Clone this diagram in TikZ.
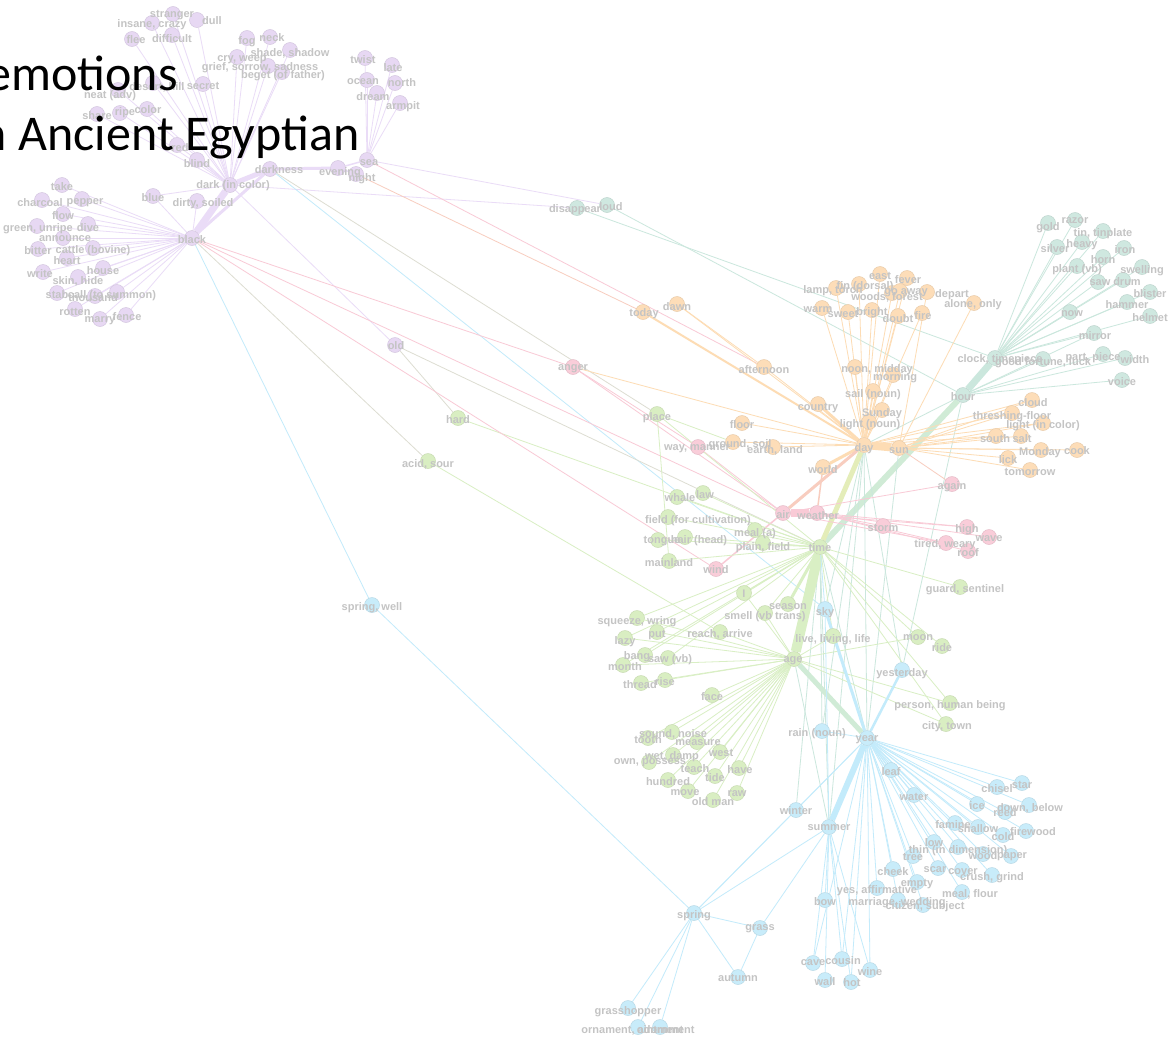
\documentclass[tikz,border=0pt]{standalone}
\usepackage{fontspec}
\setmainfont{Liberation Sans}
\newfontfamily\titlefont{Carlito}
\newfontfamily\labfont{Liberation Sans}
\pgfdeclarelayer{bg}
\pgfdeclarelayer{fg}
\pgfsetlayers{bg,main,fg}
% fills of the vertex circles
\definecolor{fPu}{HTML}{E7D8F3}
\definecolor{fTe}{HTML}{CFE8E0}
\definecolor{fOr}{HTML}{FDDDB8}
\definecolor{fGr}{HTML}{D9EEC2}
\definecolor{fBl}{HTML}{C8ECFA}
\definecolor{fPk}{HTML}{F9CDD9}
% edge colours
\definecolor{lPu}{HTML}{EADCF7}
\definecolor{lTe}{HTML}{CBE7DD}
\definecolor{lOr}{HTML}{FDDCB4}
\definecolor{lGr}{HTML}{D9EFC4}
\definecolor{lBl}{HTML}{C3EBFB}
\definecolor{lPk}{HTML}{F9CAD6}
\definecolor{lGy}{HTML}{DDDDD2}
\definecolor{lRd}{HTML}{F8CDBF}
\definecolor{lYl}{HTML}{E4EDB9}
\definecolor{lTg}{HTML}{D0EBD6}
\definecolor{cLab}{HTML}{C4C4C4}
\newcommand\V[7]{\node[#1] (#2) at (#3,#4) {};%
  \begin{pgfonlayer}{fg}\node[lab] at (#5,#6) {#7};\end{pgfonlayer}}
\begin{document}
\begin{tikzpicture}[x=1pt,y=-1pt,
  vt/.style={circle,minimum size=15pt,inner sep=0pt,line width=0.5pt},
  pu/.style={vt,fill=fPu,draw=fPu!92!black},
  te/.style={vt,fill=fTe,draw=fTe!92!black},
  or/.style={vt,fill=fOr,draw=fOr!92!black},
  gr/.style={vt,fill=fGr,draw=fGr!92!black},
  bl/.style={vt,fill=fBl,draw=fBl!92!black},
  pk/.style={vt,fill=fPk,draw=fPk!92!black},
  lab/.style={font=\labfont\bfseries\fontsize{11}{13}\selectfont,text=cLab,inner sep=0pt},
  ePu/.style={draw=lPu,line width=0.8pt},
  eTe/.style={draw=lTe,line width=0.8pt},
  eOr/.style={draw=lOr,line width=0.8pt},
  eGr/.style={draw=lGr,line width=0.8pt},
  eBl/.style={draw=lBl,line width=0.8pt},
  ePk/.style={draw=lPk,line width=0.8pt},
  eGy/.style={draw=lGy,line width=0.8pt},
  eRd/.style={draw=lRd,line width=0.8pt},
  eYl/.style={draw=lYl,line width=0.8pt},
  eTg/.style={draw=lTg,line width=0.8pt},
  title/.style={font=\titlefont\fontsize{50}{60}\selectfont,text=black,inner sep=0pt,anchor=base east}]
\useasboundingbox (0,0) rectangle (1169,1044);

% ---------- purple cluster ----------
\V{pu}{stranger}{173}{14}{172}{15}{stranger}
\V{pu}{dull}{197}{20}{212}{21}{dull}
\V{pu}{insane}{152}{23}{152}{25}{insane, crazy}
\V{pu}{flee}{132}{39}{136}{40}{flee}
\V{pu}{difficult}{172}{35}{172}{39}{difficult}
\V{pu}{fog}{247}{38}{247}{42}{fog}
\V{pu}{neck}{270}{37}{272}{38}{neck}
\V{pu}{shade}{290}{50}{290}{53}{shade, shadow}
\V{pu}{cry}{237}{57}{242}{60}{cry, weep}
\V{pu}{grief}{268}{66}{260}{68}{grief, sorrow, sadness}
\V{pu}{beget}{282}{72}{283}{76}{beget (of father)}
\V{pu}{twist}{365}{58}{363}{60}{twist}
\V{pu}{late}{392}{65}{393}{68}{late}
\V{pu}{ocean}{367}{80}{363}{82}{ocean}
\V{pu}{north}{395}{83}{402}{83}{north}
\V{pu}{dream}{377}{93}{373}{97}{dream}
\V{pu}{armpit}{400}{103}{403}{107}{armpit}
\V{pu}{secret}{203}{84}{203}{86}{secret}
\V{pu}{hill}{153}{83}{157}{87}{desert, hill}
\V{pu}{neat}{118}{90}{110}{96}{neat (adv)}
\V{pu}{color}{147}{109}{148}{110}{color}
\V{pu}{ripe}{120}{113}{125}{113}{ripe}
\V{pu}{share}{97}{114}{97}{116}{share}
\V{pu}{red}{177}{145}{180}{148}{red}
\V{pu}{blind}{197}{160}{197}{164}{blind}
\V{pu}{darkness}{270}{169}{279}{170}{darkness}
\V{pu}{evening}{338}{168}{340}{173}{evening}
\V{pu}{night}{356}{174}{362}{179}{night}
\V{pu}{sea}{367}{160}{369}{163}{sea}
\V{pu}{dark}{230}{185}{233}{186}{dark (in color)}
\V{pu}{blue}{153}{196}{153}{198}{blue}
\V{pu}{dirty}{197}{201}{203}{204}{dirty, soiled}
\V{pu}{black}{192}{238}{192}{240}{black}
\V{pu}{take}{62}{185}{62}{187}{take}
\V{pu}{charcoal}{42}{200}{40}{203}{charcoal}
\V{pu}{pepper}{82}{199}{85}{203}{pepper}
\V{pu}{flow}{63}{214}{63}{216}{flow}
\V{pu}{green}{37}{226}{38}{229}{green, unripe}
\V{pu}{dive}{88}{224}{88}{228}{dive}
\V{pu}{announce}{63}{238}{65}{239}{announce}
\V{pu}{bitter}{38}{249}{38}{251}{bitter}
\V{pu}{cattle}{93}{248}{93}{251}{cattle (bovine)}
\V{pu}{heart}{67}{258}{67}{261}{heart}
\V{pu}{write}{43}{272}{40}{274}{write}
\V{pu}{house}{103}{268}{103}{271}{house}
\V{pu}{skin}{78}{277}{78}{281}{skin, hide}
\V{pu}{stab}{57}{293}{57}{295}{stab}
\V{pu}{call}{117}{292}{112}{296}{call (to summon)}
\V{pu}{thousand}{95}{296}{93}{298}{thousand}
\V{pu}{rotten}{75}{309}{75}{312}{rotten}
\V{pu}{marry}{100}{319}{100}{321}{marry}
\V{pu}{fence}{126}{315}{127}{317}{fence}
\V{pu}{old}{395}{345}{396}{346}{old}

% ---------- teal cluster ----------
\V{te}{disappear}{577}{208}{575}{210}{disappear}
\V{te}{loud}{607}{205}{611}{207}{loud}
\V{te}{gold}{1048}{223}{1048}{228}{gold}
\V{te}{razor}{1075}{220}{1075}{221}{razor}
\V{te}{tin}{1103}{231}{1103}{234}{tin, tinplate}
\V{te}{silver}{1057}{247}{1055}{249}{silver}
\V{te}{heavy}{1082}{242}{1082}{245}{heavy}
\V{te}{iron}{1124}{248}{1125}{250}{iron}
\V{te}{horn}{1103}{257}{1103}{260}{horn}
\V{te}{plant}{1077}{266}{1077}{270}{plant (vb)}
\V{te}{swelling}{1142}{267}{1142}{271}{swelling}
\V{te}{saw}{1098}{282}{1100}{283}{saw}
\V{te}{drum}{1123}{280}{1127}{282}{drum}
\V{te}{blister}{1150}{292}{1150}{294}{blister}
\V{te}{hammer}{1127}{302}{1127}{305}{hammer}
\V{te}{helmet}{1150}{316}{1150}{318}{helmet}
\V{te}{now}{1070}{312}{1072}{314}{now}
\V{te}{mirror}{1094}{333}{1095}{336}{mirror}
\V{te}{part}{1103}{354}{1093}{358}{part, piece}
\V{te}{width}{1125}{358}{1135}{360}{width}
\V{te}{clock}{995}{358}{1000}{360}{clock, timepiece}
\V{te}{luck}{1043}{359}{1043}{363}{good fortune, luck}
\V{te}{voice}{1122}{380}{1122}{382}{voice}
\V{te}{hour}{963}{395}{963}{397}{hour}

% ---------- orange cluster ----------
\V{or}{east}{880}{274}{880}{276}{east}
\V{or}{fever}{907}{278}{908}{280}{fever}
\V{or}{lamp}{836}{288}{833}{291}{lamp, torch}
\V{or}{fin}{859}{284}{865}{287}{fin (dorsal)}
\V{or}{woods}{892}{293}{887}{297}{woods, forest}
\V{or}{goaway}{900}{291}{906}{293}{go away}
\V{or}{depart}{927}{292}{952}{295}{depart}
\V{or}{alone}{974}{303}{973}{305}{alone, only}
\V{or}{warm}{822}{308}{818}{310}{warm}
\V{or}{sweet}{848}{312}{843}{314}{sweet}
\V{or}{bright}{872}{310}{872}{313}{bright}
\V{or}{doubt}{898}{316}{898}{319}{doubt}
\V{or}{fire}{922}{313}{923}{316}{fire}
\V{or}{today}{643}{312}{644}{314}{today}
\V{or}{dawn}{677}{304}{677}{307}{dawn}
\V{or}{afternoon}{764}{367}{764}{370}{afternoon}
\V{or}{noon}{855}{367}{877}{370}{noon, midday}
\V{or}{morning}{893}{375}{895}{378}{morning}
\V{or}{sail}{873}{391}{873}{395}{sail (noun)}
\V{or}{country}{818}{404}{818}{408}{country}
\V{or}{sunday}{882}{410}{882}{414}{Sunday}
\V{or}{lightn}{869}{422}{870}{425}{light (noun)}
\V{or}{floor}{742}{423}{742}{425}{floor}
\V{or}{earthg}{733}{442}{740}{445}{ground, soil}
\V{or}{earthland}{773}{447}{775}{450}{earth, land}
\V{or}{day}{864}{445}{864}{449}{day}
\V{or}{sun}{899}{448}{899}{451}{sun}
\V{or}{world}{823}{467}{823}{470}{world}
\V{or}{cloud}{1032}{400}{1033}{403}{cloud}
\V{or}{thresh}{1012}{413}{1012}{417}{threshing-floor}
\V{or}{lightc}{1043}{423}{1043}{426}{light (in color)}
\V{or}{south}{996}{436}{995}{439}{south}
\V{or}{salt}{1021}{436}{1022}{439}{salt}
\V{or}{monday}{1041}{450}{1040}{453}{Monday}
\V{or}{cook}{1077}{450}{1077}{451}{cook}
\V{or}{lick}{1008}{458}{1008}{460}{lick}
\V{or}{tomorrow}{1030}{470}{1030}{472}{tomorrow}

% ---------- pink cluster ----------
\V{pk}{anger}{573}{367}{573}{369}{anger}
\V{pk}{way}{698}{447}{697}{449}{way, manner}
\V{pk}{again}{952}{484}{952}{487}{again}
\V{pk}{air}{783}{513}{783}{515}{air}
\V{pk}{weather}{817}{513}{818}{516}{weather}
\V{pk}{storm}{883}{526}{883}{528}{storm}
\V{pk}{high}{967}{527}{967}{530}{high}
\V{pk}{wave}{989}{537}{989}{539}{wave}
\V{pk}{tired}{946}{543}{945}{545}{tired, weary}
\V{pk}{roof}{968}{551}{968}{553}{roof}
\V{pk}{wind}{716}{569}{716}{570}{wind}

% ---------- green cluster ----------
\V{gr}{place}{657}{414}{657}{418}{place}
\V{gr}{hard}{458}{418}{458}{420}{hard}
\V{gr}{acid}{428}{461}{428}{464}{acid, sour}
\V{gr}{whale}{677}{497}{680}{498}{whale}
\V{gr}{law}{703}{493}{705}{495}{law}
\V{gr}{fieldc}{668}{517}{698}{521}{field (for cultivation)}
\V{gr}{tongue}{658}{540}{662}{541}{tongue}
\V{gr}{hair}{685}{537}{699}{541}{hair (head)}
\V{gr}{meal}{755}{530}{755}{534}{meal (a)}
\V{gr}{plain}{763}{543}{763}{548}{plain, field}
\V{gr}{mainland}{669}{561}{669}{563}{mainland}
\V{gr}{I}{744}{593}{744}{594}{I}
\V{gr}{guard}{960}{587}{965}{590}{guard, sentinel}
\V{gr}{season}{788}{604}{788}{607}{season}
\V{gr}{smell}{765}{613}{765}{617}{smell (vb trans)}
\V{gr}{squeeze}{637}{618}{637}{622}{squeeze, wring}
\V{gr}{put}{657}{632}{657}{635}{put}
\V{gr}{lazy}{625}{638}{625}{642}{lazy}
\V{gr}{reach}{720}{632}{720}{634}{reach, arrive}
\V{gr}{live}{833}{636}{833}{640}{live, living, life}
\V{gr}{moon}{918}{637}{918}{638}{moon}
\V{gr}{ride}{942}{646}{942}{648}{ride}
\V{gr}{bang}{645}{655}{637}{657}{bang}
\V{gr}{sawvb}{668}{658}{670}{660}{saw (vb)}
\V{gr}{month}{623}{665}{625}{667}{month}
\V{gr}{age}{794}{659}{793}{661}{age}
\V{gr}{thread}{641}{683}{640}{685}{thread}
\V{gr}{rise}{665}{680}{665}{682}{rise}
\V{gr}{face}{712}{695}{712}{697}{face}
\V{gr}{person}{950}{703}{950}{706}{person, human being}
\V{gr}{city}{946}{724}{947}{727}{city, town}
\V{gr}{time}{820}{547}{820}{548}{time}
\V{gr}{sound}{672}{732}{673}{734}{sound, noise}
\V{gr}{tooth}{648}{738}{648}{740}{tooth}
\V{gr}{measure}{697}{742}{698}{743}{measure}
\V{gr}{west}{720}{752}{721}{753}{west}
\V{gr}{wet}{673}{755}{672}{757}{wet, damp}
\V{gr}{own}{649}{762}{650}{763}{own, possess}
\V{gr}{teach}{694}{767}{695}{769}{teach}
\V{gr}{have}{739}{768}{740}{770}{have}
\V{gr}{tide}{715}{776}{715}{778}{tide}
\V{gr}{hundred}{668}{780}{668}{782}{hundred}
\V{gr}{move}{688}{791}{685}{793}{move}
\V{gr}{raw}{737}{793}{737}{794}{raw}
\V{gr}{oldman}{713}{800}{713}{802}{old man}

% ---------- blue cluster ----------
\V{bl}{springwell}{372}{605}{372}{608}{spring, well}
\V{bl}{sky}{825}{609}{825}{613}{sky}
\V{bl}{yesterday}{902}{670}{902}{674}{yesterday}
\V{bl}{rain}{822}{731}{817}{734}{rain (noun)}
\V{bl}{year}{867}{738}{867}{740}{year}
\V{bl}{leaf}{891}{770}{891}{772}{leaf}
\V{bl}{water}{914}{795}{914}{797}{water}
\V{bl}{chisel}{997}{787}{997}{789}{chisel}
\V{bl}{star}{1022}{783}{1022}{785}{star}
\V{bl}{ice}{977}{804}{977}{806}{ice}
\V{bl}{down}{1029}{805}{1030}{808}{down, below}
\V{bl}{reed}{1005}{812}{1005}{813}{reed}
\V{bl}{winter}{796}{810}{796}{811}{winter}
\V{bl}{famine}{955}{823}{953}{825}{famine}
\V{bl}{shallow}{978}{827}{978}{829}{shallow}
\V{bl}{firewood}{1026}{831}{1033}{832}{firewood}
\V{bl}{cold}{1003}{835}{1003}{837}{cold}
\V{bl}{summer}{829}{827}{829}{828}{summer}
\V{bl}{low}{934}{842}{934}{843}{low}
\V{bl}{thin}{958}{847}{958}{851}{thin (in dimension)}
\V{bl}{tree}{913}{856}{913}{857}{tree}
\V{bl}{wood}{983}{854}{983}{856}{wood}
\V{bl}{paper}{1011}{856}{1012}{857}{paper}
\V{bl}{cheek}{893}{869}{893}{872}{cheek}
\V{bl}{scar}{938}{868}{935}{870}{scar}
\V{bl}{cover}{962}{870}{963}{872}{cover}
\V{bl}{crush}{992}{875}{992}{878}{crush, grind}
\V{bl}{empty}{917}{882}{917}{884}{empty}
\V{bl}{yes}{877}{888}{877}{891}{yes, affirmative}
\V{bl}{flour}{962}{892}{970}{894}{meal, flour}
\V{bl}{marriage}{898}{900}{897}{903}{marriage, wedding}
\V{bl}{citizen}{923}{905}{925}{907}{citizen, subject}
\V{bl}{bow}{825}{900}{825}{902}{bow}
\V{bl}{spring}{694}{913}{694}{916}{spring}
\V{bl}{grass}{760}{928}{760}{929}{grass}
\V{bl}{autumn}{738}{977}{738}{978}{autumn}
\V{bl}{cave}{813}{963}{813}{963}{cave}
\V{bl}{cousin}{842}{959}{843}{961}{cousin}
\V{bl}{wine}{870}{970}{870}{972}{wine}
\V{bl}{wall}{825}{980}{825}{982}{wall}
\V{bl}{hot}{851}{982}{852}{983}{hot}
\V{bl}{grasshopper}{628}{1008}{628}{1012}{grasshopper}
\V{bl}{ornament}{638}{1027}{638}{1030}{ornament, adornment}
\V{bl}{ointment}{660}{1027}{660}{1030}{ointment}

% ---------- edges, under the vertices ----------
\begin{pgfonlayer}{bg}
\fill[white] (0,0) rectangle (1169,1044);
% purple
\foreach \k in {take,charcoal,pepper,flow,green,dive,announce,bitter,cattle,heart,write,house,skin,stab,call,thousand,rotten,marry,fence,blue,dirty}
  \draw[ePu] (black) -- (\k);
\foreach \k in {stranger,dull,insane,flee,difficult,fog,neck,shade,cry,grief,beget,secret,hill,neat,color,ripe,share,red,blind,blue,old}
  \draw[ePu] (dark) -- (\k);
\foreach \k in {twist,late,ocean,north,dream,armpit}
  \draw[ePu] (sea) -- (\k);
\draw[ePu,line width=7pt] (black) -- (dark);
\draw[ePu,line width=5pt] (dark) -- (darkness);
\draw[ePu,line width=3pt] (black) -- (darkness);
\draw[ePu,line width=3pt] (darkness) -- (evening);
\draw[ePu,line width=1.5pt] (evening) -- (sea);
\draw[ePu,line width=1.5pt] (evening) -- (night);
% long links leaving the purple cluster
\draw[ePu] (dark) -- (disappear);
\draw[ePu] (sea) -- (loud);
\draw[eGy] (darkness) -- (place);
\draw[eRd] (night) -- (today);
\draw[ePk] (sea) -- (afternoon);
\draw[eBl] (black) -- (springwell);
\draw[eBl] (springwell) -- (spring);
\draw[eBl] (darkness) -- (sky);
\draw[eGy] (old) -- (hard);
\draw[eGy] (old) -- (time);
\draw[eGy] (black) -- (acid);
\draw[eGr] (hard) -- (time);
\draw[eGr] (acid) -- (reach);
\draw[ePk] (black) -- (anger);
\draw[ePk] (anger) -- (air);
\draw[ePk] (black) -- (air);
\draw[ePk] (black) -- (wind);
\draw[eOr] (anger) -- (day);
\draw[eTe] (disappear) -- (clock);
\draw[eTe] (loud) -- (hour);
% teal
\foreach \k in {gold,razor,tin,silver,heavy,iron,horn,plant,swelling,saw,drum,blister,hammer,helmet,now,mirror}
  \draw[eTe] (clock) -- (\k);
\foreach \k in {part,width,luck,voice,mirror}
  \draw[eTe] (hour) -- (\k);
\draw[eTe,line width=7pt] (hour) -- (clock);
\draw[eTg,line width=6pt] (time) -- (hour);
\foreach \k in {year,summer,rain,yesterday,sky}
  \draw[eTe] (day) -- (\k);
\foreach \k in {year,summer,rain,winter}
  \draw[eTe] (time) -- (\k);
\draw[eTe] (sun) -- (year);
\draw[eTe] (hour) -- (yesterday);
\draw[eTe] (hour) -- (day);
% orange
\foreach \k in {east,fever,lamp,fin,woods,goaway,warm,sweet,bright,doubt,fire,noon,morning,sail,sunday,lightn,afternoon,dawn,floor,earthg,earthland}
  \draw[eOr] (day) -- (\k);
\foreach \k in {alone,depart,cloud,thresh,lightc,south,salt,monday,cook,lick,tomorrow}
  \draw[eOr] (sun) -- (\k);
\foreach \k in {cloud,thresh,lightc,south}
  \draw[eOr] (day) -- (\k);
\draw[eOr,line width=8pt] (day) -- (sun);
\draw[eOr,line width=3pt] (day) -- (country);
\draw[eOr,line width=3pt] (day) -- (world);
\draw[eOr,line width=2pt] (day) -- (today);
\draw[eOr] (afternoon) -- (dawn);
\draw[eRd,line width=3pt] (day) -- (air);
\draw[eYl,line width=5pt] (day) -- (time);
\draw[eRd,line width=1.5pt] (world) -- (weather);
\draw[eRd] (sun) -- (again);
% pink
\draw[ePk,line width=8pt] (air) -- (weather);
\foreach \k in {storm,high,wave,tired,roof}
  \draw[ePk] (weather) -- (\k);
\draw[ePk] (air) -- (high);
\draw[ePk] (air) -- (tired);
\draw[ePk,line width=1.5pt] (air) -- (wind);
\draw[ePk] (again) -- (air);
\draw[ePk] (way) -- (air);
\draw[ePk] (anger) -- (way);
% green
\draw[eGr,line width=10pt] (time) -- (age);
\draw[eGr,line width=3pt] (time) -- (season);
\foreach \k in {whale,law,fieldc,tongue,hair,meal,plain,mainland,I,guard,squeeze,put,lazy,bang,sawvb,month,moon,ride,person,city,place,smell,live}
  \draw[eGr] (time) -- (\k);
\foreach \k in {sound,tooth,measure,west,wet,own,teach,have,tide,hundred,move,raw,oldman,face,thread,rise,live,reach,smell,I,month,put,lazy,squeeze,person,city,moon}
  \draw[eGr] (age) -- (\k);
\draw[eGr] (place) -- (earthg);
\draw[eGr] (place) -- (mainland);
\draw[eTg,line width=5pt] (age) -- (year);
\draw[eTe] (age) -- (summer);
% blue
\foreach \k in {leaf,water,chisel,star,ice,down,reed,famine,shallow,firewood,cold,low,thin,tree,wood,paper,cheek,scar,cover,crush,empty,yes,flour,marriage,citizen,winter,rain,spring,cave,cousin,wine,hot}
  \draw[eBl] (year) -- (\k);
\draw[eBl,line width=6pt] (year) -- (summer);
\draw[eBl,line width=2.5pt] (year) -- (yesterday);
\draw[eBl,line width=3pt] (sky) -- (year);
\draw[eBl] (time) -- (sky);
\draw[eBl] (sky) -- (summer);
\foreach \k in {bow,cave,cousin,wine,wall,hot,grass,spring}
  \draw[eBl] (summer) -- (\k);
\foreach \k in {grasshopper,ornament,ointment,autumn,grass,winter}
  \draw[eBl] (spring) -- (\k);
\draw[eBl] (autumn) -- (grass);
\end{pgfonlayer}

% ---------- heading ----------
\begin{pgfonlayer}{fg}
\node[title] (head1) at (178,90) {emotions};
\node[title] (head2) at (360,150) {n Ancient Egyptian};
\end{pgfonlayer}
\end{tikzpicture}
\end{document}
